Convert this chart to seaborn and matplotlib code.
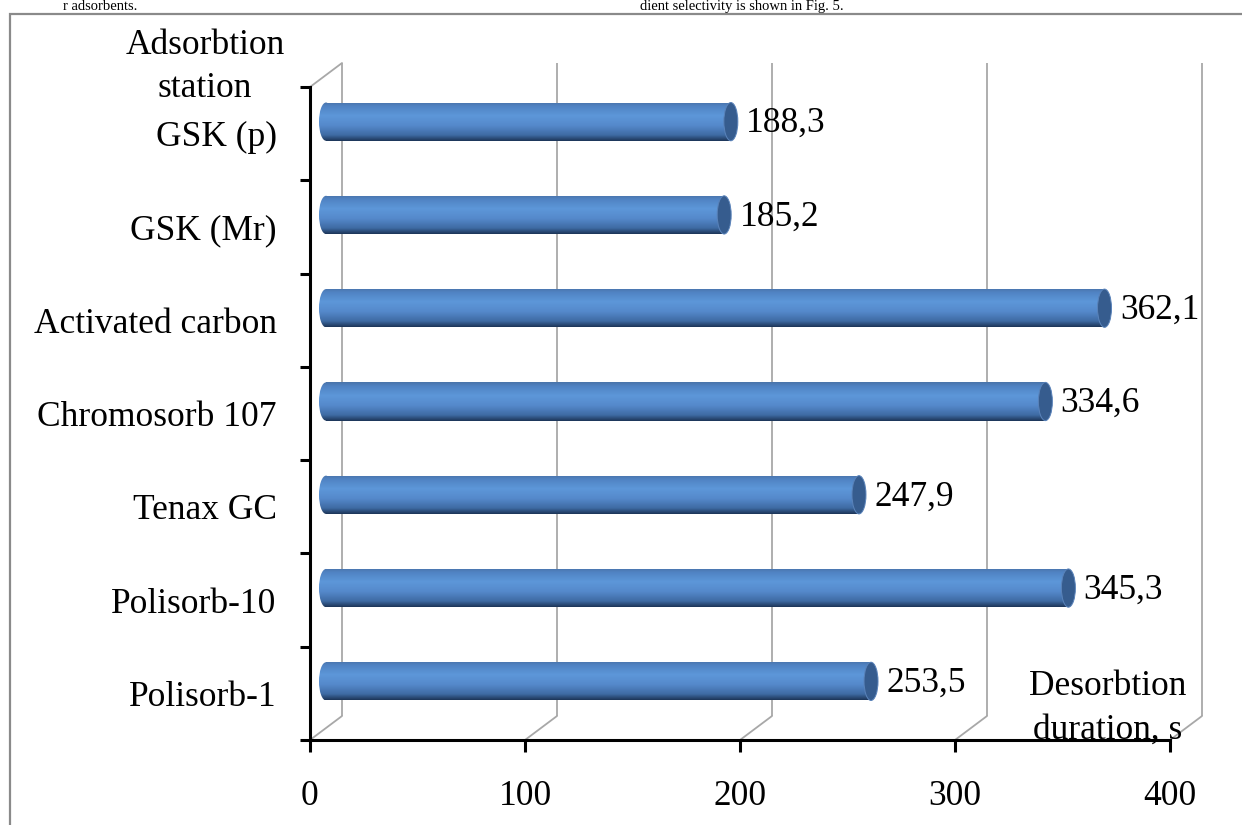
import numpy as np
import pandas as pd
import matplotlib
matplotlib.use("Agg")
import matplotlib.pyplot as plt
import matplotlib.transforms as mtransforms
from matplotlib.patches import Ellipse, Rectangle, ConnectionPatch
from matplotlib.colors import LinearSegmentedColormap
import seaborn as sns

# ---- data -------------------------------------------------------------
stations = ["GSK (p)", "GSK (Mr)", "Activated carbon", "Chromosorb 107",
            "Tenax GC", "Polisorb-10", "Polisorb-1"]
durations = [188.3, 185.2, 362.1, 334.6, 247.9, 345.3, 253.5]
x_ticks = [0, 100, 200, 300, 400]
y_title = "Adsorbtion\nstation"
x_title = "Desorbtion\nduration, s"
page_text_left = "r adsorbents."
page_text_right = "dient selectivity is shown in Fig. 5."

# ---- style ------------------------------------------------------------
sns.set_theme(style="white")
plt.rcParams["font.family"] = ["Liberation Serif", "DejaVu Serif"]
FS = 25.5

W, H, DPI = 1242, 825, 100
fig = plt.figure(figsize=(W / DPI, H / DPI), dpi=DPI)
fig.patch.set_facecolor("white")
ax = fig.add_axes([310 / W, 85 / H, 860 / W, 653 / H])
ax.set_facecolor("none")

df = pd.DataFrame({"station": stations, "duration": durations})
sns.barplot(data=df, x="duration", y="station", orient="h", width=0.41,
            color="#4F81BD", saturation=1, errorbar=None, ax=ax)
bars = list(ax.patches)
n = len(stations)


def shifted(dx_px, dy_px):
    """Data transform pushed back into the 3-D depth by a pixel offset."""
    return ax.transData + mtransforms.ScaledTranslation(
        dx_px / DPI, dy_px / DPI, fig.dpi_scale_trans)


back = shifted(32, 24)   # back wall of the 3-D box
mid = shifted(16, 12)    # cylinders sit half way into the depth

# ---- back wall and floor edges -----------------------------------------
grid_kw = dict(color="#a8a8a8", lw=1.3, zorder=0.5)
for xv in x_ticks:
    ax.plot([xv, xv], [n - 0.5, -0.5], transform=back, clip_on=False,
            solid_capstyle="butt", **grid_kw)
    ax.add_artist(ConnectionPatch((xv, n - 0.5), (xv, n - 0.5),
                                  coordsA=ax.transData, coordsB=back,
                                  **grid_kw))
ax.add_artist(ConnectionPatch((0, -0.5), (0, -0.5), coordsA=ax.transData,
                              coordsB=back, **grid_kw))

# ---- cylinders ---------------------------------------------------------
cyl = LinearSegmentedColormap.from_list("cyl", [
    (0.00, "#4a74aa"), (0.10, "#5083c3"), (0.35, "#5d97d9"),
    (0.60, "#5589cb"), (0.85, "#3f6ba4"), (1.00, "#1d3659")])
grad = cyl(np.linspace(0, 1, 96))[:, None, :]
cap_w = 14 * 400 / 860  # end-cap width in data units

for bar, v in zip(bars, durations):
    x0, w = bar.get_x(), bar.get_width()
    y0, h = bar.get_y(), bar.get_height()
    yc = y0 + h / 2
    bar.set_transform(mid)
    bar.set_facecolor("none")
    bar.set_edgecolor("none")
    body = ax.imshow(grad, extent=[x0, x0 + w, y0 + h, y0], aspect="auto",
                     transform=mid, zorder=2, interpolation="bilinear")
    body.set_clip_path(bar)
    start = Ellipse((x0, yc), cap_w, h, transform=mid,
                    facecolor="none", edgecolor="none")
    ax.add_patch(start)
    start_img = ax.imshow(grad, extent=[x0 - cap_w / 2, x0 + cap_w / 2, y0 + h, y0],
                          aspect="auto", transform=mid, zorder=2,
                          interpolation="bilinear")
    start_img.set_clip_path(start)
    ax.add_patch(Ellipse((x0 + w, yc), cap_w, h, transform=mid,
                         facecolor="#365c8e", edgecolor="#5a83ba", lw=0.7,
                         zorder=3))
    ax.annotate(f"{v:.1f}".replace(".", ","), xy=(x0 + w, yc), xycoords=mid,
                xytext=(11, -1.5), textcoords="offset points",
                ha="left", va="center", fontsize=FS, color="black", zorder=4)

# ---- axes --------------------------------------------------------------
ax.set_xlim(0, 400)
ax.set_ylim(n - 0.5, -0.5)
ax.set_xlabel("")
ax.set_ylabel("")
ax.set_xticks(x_ticks)
ax.set_xticklabels([str(t) for t in x_ticks])
ax.set_yticks(np.arange(n + 1) - 0.5)
ax.set_yticklabels([])
ax.set_yticks(np.arange(n), labels=stations, minor=True)
ax.tick_params(axis="y", which="major", direction="out", length=7,
               width=2.2, color="black", left=True)
ax.tick_params(axis="y", which="minor", length=0, pad=24, left=True,
               labelsize=FS, labelcolor="black")
ax.tick_params(axis="x", which="major", direction="out", length=8.5,
               width=2.2, color="black", pad=20, bottom=True,
               labelsize=FS, labelcolor="black")
for side in ("top", "right"):
    ax.spines[side].set_visible(False)
for side in ("left", "bottom"):
    ax.spines[side].set_color("black")
    ax.spines[side].set_linewidth(2.2)
    ax.spines[side].set_zorder(5)

# ---- titles and frame --------------------------------------------------
fig.text(205 / W, 1 - 67 / H, y_title, ha="center", va="center",
         fontsize=FS, color="black", linespacing=1.42)
fig.text(1108 / W, 1 - 708 / H, x_title, ha="center", va="center",
         fontsize=FS, color="black", linespacing=1.42)
fig.text(137 / W, 1 - 10 / H, page_text_left, ha="right", va="baseline",
         fontsize=10.5, color="black")
fig.text(640 / W, 1 - 10 / H, page_text_right, ha="left", va="baseline",
         fontsize=10.5, color="black")
fig.add_artist(Rectangle((10 / W, -0.05), 1.1, (H - 14) / H + 0.05,
                         transform=fig.transFigure, fill=False,
                         edgecolor="#8a8a8a", lw=1.6, clip_on=False))

fig.savefig("out.png", dpi=DPI)
